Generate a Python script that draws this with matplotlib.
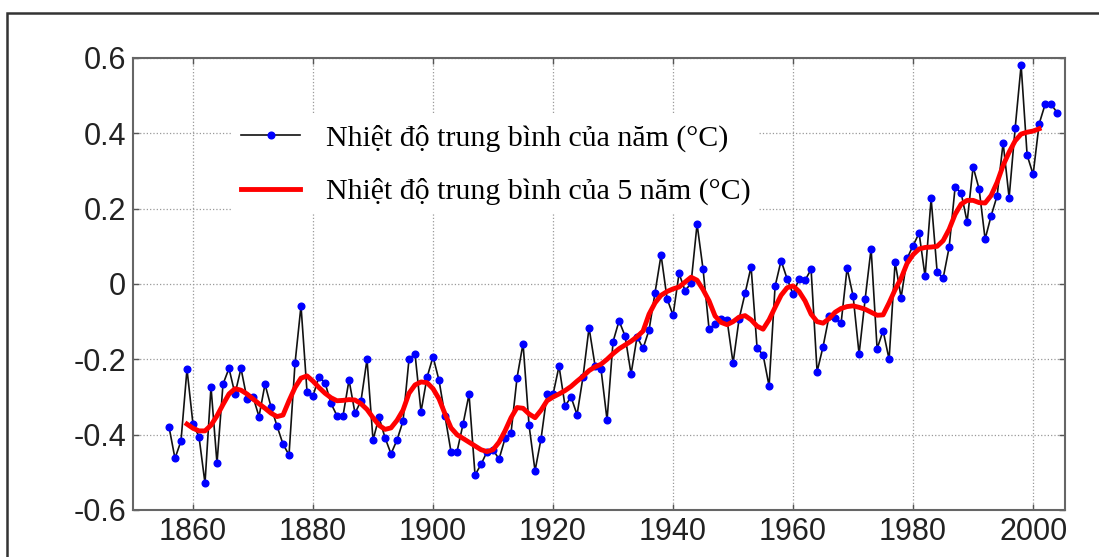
import numpy as np
import matplotlib
matplotlib.use('Agg')
import matplotlib.pyplot as plt
from matplotlib.patches import Rectangle

# nhiet do trung binh hang nam (1856-2004)
years = np.arange(1856, 2005)
annual = [-0.379, -0.463, -0.417, -0.226, -0.372, -0.405, -0.529, -0.273, -0.476, -0.266,
          -0.224, -0.292, -0.224, -0.305, -0.299, -0.352, -0.266, -0.326, -0.377, -0.425,
          -0.454, -0.211, -0.058, -0.286, -0.297, -0.246, -0.262, -0.317, -0.350, -0.350,
          -0.255, -0.343, -0.310, -0.200, -0.414, -0.354, -0.408, -0.451, -0.414, -0.364,
          -0.199, -0.186, -0.339, -0.248, -0.193, -0.256, -0.351, -0.446, -0.445, -0.372,
          -0.293, -0.507, -0.479, -0.445, -0.440, -0.465, -0.410, -0.395, -0.249, -0.158,
          -0.375, -0.496, -0.411, -0.293, -0.293, -0.218, -0.324, -0.300, -0.347, -0.246,
          -0.116, -0.217, -0.227, -0.361, -0.153, -0.098, -0.138, -0.239, -0.140, -0.171,
          -0.122, -0.023, 0.077, -0.039, -0.083, 0.028, -0.018, 0.002, 0.159, 0.039,
          -0.120, -0.106, -0.092, -0.096, -0.210, -0.093, -0.025, 0.046, -0.170, -0.188,
          -0.271, -0.006, 0.062, 0.014, -0.027, 0.014, 0.010, 0.039, -0.233, -0.166,
          -0.085, -0.091, -0.104, 0.042, -0.032, -0.186, -0.041, 0.094, -0.172, -0.124,
          -0.200, 0.058, -0.036, 0.068, 0.102, 0.135, 0.020, 0.227, 0.033, 0.015,
          0.097, 0.257, 0.242, 0.165, 0.311, 0.252, 0.119, 0.181, 0.234, 0.375,
          0.229, 0.413, 0.581, 0.342, 0.291, 0.425, 0.477, 0.477, 0.455]

# duong trung binh 5 nam (1859-2001)
smooth_years = np.arange(1859, 2002)
smooth = [-0.372, -0.383, -0.390, -0.390, -0.375, -0.350, -0.320, -0.292, -0.278, -0.282,
          -0.292, -0.305, -0.318, -0.330, -0.343, -0.352, -0.348, -0.310, -0.275, -0.250,
          -0.244, -0.258, -0.275, -0.290, -0.302, -0.310, -0.309, -0.307, -0.308, -0.318,
          -0.333, -0.355, -0.375, -0.386, -0.382, -0.362, -0.335, -0.290, -0.268, -0.260,
          -0.262, -0.278, -0.305, -0.345, -0.382, -0.400, -0.410, -0.420, -0.430, -0.440,
          -0.445, -0.440, -0.420, -0.390, -0.355, -0.328, -0.330, -0.345, -0.355, -0.335,
          -0.310, -0.300, -0.292, -0.283, -0.272, -0.258, -0.245, -0.230, -0.220, -0.213,
          -0.200, -0.185, -0.172, -0.162, -0.152, -0.140, -0.125, -0.080, -0.050, -0.030,
          -0.020, -0.013, -0.008, 0.005, 0.018, 0.010, -0.015, -0.045, -0.085, -0.102,
          -0.108, -0.100, -0.088, -0.084, -0.095, -0.112, -0.120, -0.095, -0.062, -0.030,
          -0.010, -0.005, -0.020, -0.045, -0.080, -0.100, -0.104, -0.092, -0.075, -0.065,
          -0.060, -0.058, -0.062, -0.067, -0.075, -0.083, -0.082, -0.050, -0.015, 0.015,
          0.055, 0.078, 0.093, 0.097, 0.098, 0.100, 0.115, 0.145, 0.185, 0.212,
          0.222, 0.222, 0.216, 0.215, 0.235, 0.270, 0.315, 0.350, 0.380, 0.398,
          0.403, 0.406, 0.412]

xticks = [1860, 1880, 1900, 1920, 1940, 1960, 1980, 2000]
yticks = [-0.6, -0.4, -0.2, 0, 0.2, 0.4, 0.6]
ytick_labels = ['-0.6', '-0.4', '-0.2', '0', '0.2', '0.4', '0.6']
label_annual = 'Nhiệt độ trung bình của năm (°C)'
label_smooth = 'Nhiệt độ trung bình của 5 năm (°C)'

fig = plt.figure(figsize=(10.99, 5.57), dpi=100)
ax = fig.add_axes([0.121, 0.0844, 0.848, 0.8115])

ax.plot(years, annual, color='#111111', lw=1.2, marker='o', markersize=4.8,
        markerfacecolor='#0000ff', markeredgecolor='#0000ff', label=label_annual, zorder=3)
ax.plot(smooth_years, smooth, color='#ff0000', lw=3.5, label=label_smooth, zorder=4)

ax.set_xlim(1850, 2005.3)
ax.set_ylim(-0.6, 0.6)
ax.set_xticks(xticks)
ax.set_yticks(yticks)
ax.set_yticklabels(ytick_labels)
ax.grid(True, linestyle=':', color='#999999', lw=0.9)
ax.tick_params(direction='in', top=True, right=True, length=4, width=1, color='#555555',
               labelsize=22, labelcolor='#222222', pad=5)
for s in ax.spines.values():
    s.set_color('#666666')
    s.set_linewidth(1.5)
for t in ax.get_xticklabels() + ax.get_yticklabels():
    t.set_family(['Liberation Sans', 'DejaVu Sans'])

leg = ax.legend(loc='upper left', bbox_to_anchor=(0.09, 0.906), frameon=True,
                prop={'family': ['Liberation Serif', 'DejaVu Serif'], 'size': 21.5},
                handlelength=2.0, handletextpad=0.84, labelspacing=0.88,
                borderpad=0.3, fancybox=False)
leg.get_frame().set_facecolor('white')
leg.get_frame().set_edgecolor('none')
leg.get_frame().set_alpha(1)

# khung ngoai
fig.add_artist(Rectangle((0.0064, -0.1), 1.2, 1.0766, transform=fig.transFigure,
                         fill=False, edgecolor='#333333', lw=1.8))

fig.savefig('out.png', dpi=100)
